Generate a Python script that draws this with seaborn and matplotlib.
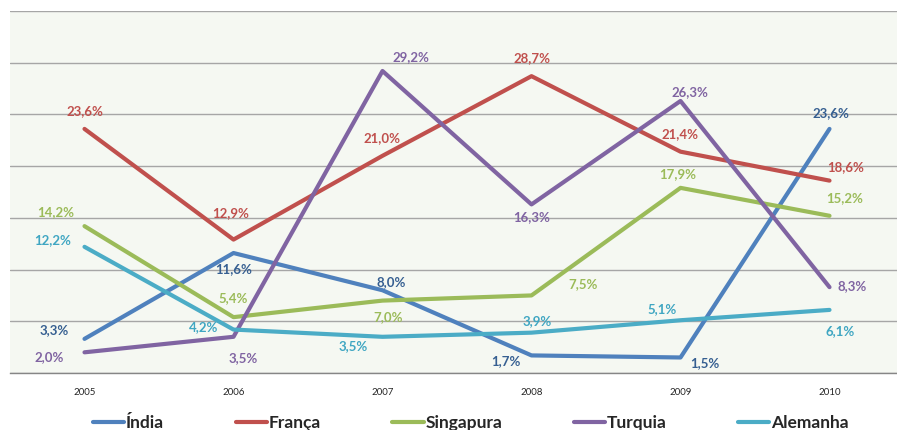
import pandas as pd
import seaborn as sns
import matplotlib.pyplot as plt

years = ["2005", "2006", "2007", "2008", "2009", "2010"]
countries = ["Índia", "França", "Singapura", "Turquia", "Alemanha"]
india = [3.3, 11.6, 8.0, 1.7, 1.5, 23.6]
franca = [23.6, 12.9, 21.0, 28.7, 21.4, 18.6]
singapura = [14.2, 5.4, 7.0, 7.5, 17.9, 15.2]
turquia = [2.0, 3.5, 29.2, 16.3, 26.3, 8.3]
alemanha = [12.2, 4.2, 3.5, 3.9, 5.1, 6.1]

series = {"Índia": india, "França": franca, "Singapura": singapura,
          "Turquia": turquia, "Alemanha": alemanha}

line_colors = {"Índia": "#4f81bd", "França": "#c0504d", "Singapura": "#9bbb59",
               "Turquia": "#8064a2", "Alemanha": "#4bacc6"}
label_colors = {"Índia": "#365f91", "França": "#c0504d", "Singapura": "#9bbb59",
                "Turquia": "#8064a2", "Alemanha": "#3fa6c2"}

# label offsets in pixels (dx, dy) from each point
offsets = {
    "Índia": [(-30, 9), (0, -16), (9, 8), (-26, -6), (24, -6), (1, 16)],
    "França": [(0, 18), (-3, 26), (-1, 18), (0, 18), (-1, 18), (16, 14)],
    "Singapura": [(-29, 14), (0, 19), (6, -16), (52, 11), (-3, 14), (15, 18)],
    "Turquia": [(-35, -5), (10, -21), (28, 14), (0, -13), (9, 9), (23, 1)],
    "Alemanha": [(-32, 7), (-30, 2), (-29, -9), (6, 12), (-18, 11), (11, -21)],
}

rows = []
for c in countries:
    for i, v in enumerate(series[c]):
        rows.append({"pos": i, "year": years[i], "country": c, "value": v})
df = pd.DataFrame(rows)

sns.set_style("white")
plt.rcParams["font.family"] = ["Lato", "DejaVu Sans"]

fig = plt.figure(figsize=(8.97, 4.30), dpi=100)
ax = fig.add_axes([10 / 897, 57 / 430, 894 / 897, 362 / 430])
ax.set_facecolor("#f5f8f2")

sns.lineplot(data=df, x="pos", y="value", hue="country", hue_order=countries,
             palette=line_colors, linewidth=3, sort=False, ax=ax,
             solid_capstyle="round", legend=True)

for c in countries:
    for i, v in enumerate(series[c]):
        dx, dy = offsets[c][i]
        ax.annotate(f"{v:.1f}%".replace(".", ","), (i, v), xytext=(dx, dy),
                    textcoords="offset pixels", ha="center", va="center",
                    fontsize=9.5, fontweight="bold", color=label_colors[c])

ax.set_xlim(-0.5, 5.5)
ax.set_ylim(0, 35)
ax.set_yticks(range(0, 36, 5))
ax.yaxis.grid(True, color="#a6a6a6", linewidth=1)
ax.set_axisbelow(True)
ax.tick_params(axis="y", left=False, labelleft=False)
ax.set_xticks(range(len(years)))
ax.set_xticklabels(years, fontsize=7, color="#262626")
ax.set_xticks([i - 0.5 for i in range(len(years) + 1)], minor=True)
ax.tick_params(axis="x", which="major", length=0, pad=11)
ax.tick_params(axis="x", which="minor", length=5, color="#868686", width=1, direction="out")
ax.set_xlabel("")
ax.set_ylabel("")
for s in ["left", "right", "top"]:
    ax.spines[s].set_visible(False)
ax.spines["bottom"].set_color("#868686")
ax.spines["bottom"].set_linewidth(1)

handles, labels = ax.get_legend_handles_labels()
ax.get_legend().remove()
leg = fig.legend(handles, labels, loc="center", bbox_to_anchor=(471 / 897, 7 / 430),
                 ncol=5, frameon=False, handlelength=1.8, handletextpad=0.12,
                 columnspacing=4.1, prop={"family": "Lato", "weight": "bold", "size": 12.5})
for h in leg.get_lines():
    h.set_linewidth(3)
    h.set_solid_capstyle("round")

fig.savefig("out.png", dpi=100)
